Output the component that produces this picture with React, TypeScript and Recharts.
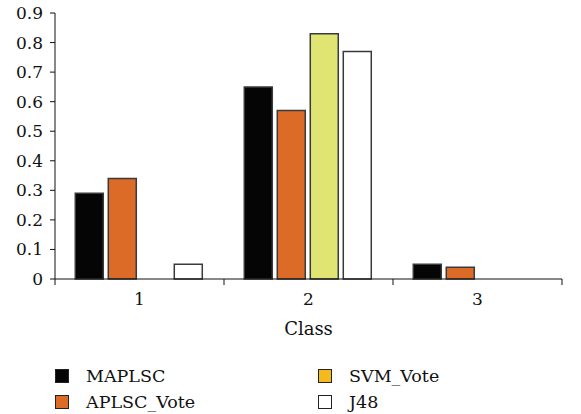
import { BarChart, Bar, XAxis, YAxis } from 'recharts'

const CLASSES = ['1', '2', '3']
const MAPLSC = [0.29, 0.65, 0.05]
const APLSC_VOTE = [0.34, 0.57, 0.04]
const SVM_VOTE = [0, 0.83, 0]
const J48 = [0.05, 0.77, 0]
const Y_TICKS = [0, 0.1, 0.2, 0.3, 0.4, 0.5, 0.6, 0.7, 0.8, 0.9]

const SERIES = [
  { key: 'MAPLSC', name: 'MAPLSC', values: MAPLSC, fill: '#050505', legend: '#050505' },
  { key: 'APLSC_Vote', name: 'APLSC_Vote', values: APLSC_VOTE, fill: '#dc6b27', legend: '#dc6b27' },
  { key: 'SVM_Vote', name: 'SVM_Vote', values: SVM_VOTE, fill: '#dfe473', legend: '#f4b91d' },
  { key: 'J48', name: 'J48', values: J48, fill: '#ffffff', legend: '#ffffff' },
]

const data = CLASSES.map((c, i) => {
  const row: Record<string, string | number> = { cls: c }
  SERIES.forEach((s) => {
    row[s.key] = s.values[i]
  })
  return row
})

const FONT = "'DejaVu Serif', serif"
const X_TICK_SIZE = 6
const X_TICK_MARGIN = 4

// category labels sit mid-band, but the tick marks go on the band edges
function ClassTick(props: any) {
  const { x, y, payload, index, visibleTicksCount } = props
  const half = payload.offset || 0
  const axisY = y - X_TICK_SIZE - X_TICK_MARGIN
  const last = index === visibleTicksCount - 1
  return (
    <g>
      <line x1={x - half} x2={x - half} y1={axisY} y2={axisY + X_TICK_SIZE} stroke="#111" />
      {last && <line x1={x + half} x2={x + half} y1={axisY} y2={axisY + X_TICK_SIZE} stroke="#111" />}
      <text x={x} y={y} dy="0.95em" textAnchor="middle" fontSize={17} fill="#111" style={{ fontFamily: FONT }}>
        {payload.value}
      </text>
    </g>
  )
}

export default function App() {
  return (
    <div style={{ position: 'absolute', left: 0, top: 0, width: 581, height: 414, background: '#fff', fontFamily: FONT }}>
      <BarChart
        width={581}
        height={345}
        data={data}
        margin={{ top: 13, right: 19, left: 0, bottom: 6 }}
        barCategoryGap="12%"
        barGap={5}
        style={{ fontFamily: FONT }}
      >
        <XAxis
          dataKey="cls"
          height={60}
          stroke="#111"
          tickLine={false}
          tickSize={X_TICK_SIZE}
          tickMargin={X_TICK_MARGIN}
          tick={<ClassTick />}
          label={{ value: 'Class', position: 'insideBottom', offset: 4, fontSize: 18, fill: '#111', style: { fontFamily: FONT } }}
        />
        <YAxis
          width={55}
          domain={[0, 0.9]}
          ticks={Y_TICKS}
          interval={0}
          stroke="#111"
          tickSize={5}
          tickMargin={7}
          tickFormatter={(v: number) => (v === 0 ? '0' : v.toFixed(1))}
          tick={{ fontSize: 17, fill: '#111', style: { fontFamily: FONT } }}
        />
        {SERIES.map((s) => (
          <Bar
            key={s.key}
            dataKey={s.key}
            name={s.name}
            fill={s.fill}
            stroke="#3a3a3a"
            strokeWidth={1.5}
            isAnimationActive={false}
          />
        ))}
      </BarChart>
      <div
        style={{
          position: 'absolute',
          left: 55,
          top: 363,
          display: 'grid',
          gridAutoFlow: 'column',
          gridTemplateRows: 'repeat(2, 26px)',
          gridTemplateColumns: '263px 200px',
          fontSize: 17.5,
          color: '#111',
        }}
      >
        {SERIES.map((s) => (
          <div key={s.key} style={{ display: 'flex', alignItems: 'center' }}>
            <span
              style={{
                display: 'inline-block',
                width: 12,
                height: 12,
                background: s.legend,
                border: '1px solid #222',
                marginRight: 17,
              }}
            />
            <span>{s.name}</span>
          </div>
        ))}
      </div>
    </div>
  )
}
